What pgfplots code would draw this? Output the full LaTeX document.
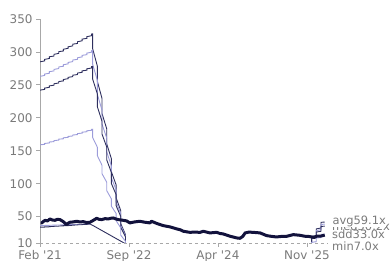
\documentclass[border=0pt]{standalone}
\usepackage{pgfplots}
\pgfplotsset{compat=1.18}
\usepackage{fontspec}
\setmainfont{DejaVu Sans}[Ligatures=TeXOff]
\definecolor{darkline}{HTML}{2E2F5E}
\definecolor{lightline}{HTML}{9C9CDA}
\definecolor{thickc}{HTML}{12123C}
\definecolor{axgray}{HTML}{A8A8A8}
\definecolor{txtgray}{HTML}{7A7A7A}
\begin{document}
\begin{tikzpicture}
\useasboundingbox (-40bp,-18bp) rectangle (350bp,243bp);
\begin{axis}[
  at={(0,0)}, anchor=south west,
  scale only axis, width=288bp, height=224bp,
  xmin=0, xmax=61.5, ymin=10, ymax=350,
  axis x line=bottom, axis y line=left,
  x axis line style={-, axgray, dashed, line width=0.8bp},
  y axis line style={-, axgray, line width=1bp},
  clip mode=individual,
  xtick={0,19,38,57}, xticklabels={Feb '21,Sep '22,Apr '24,Nov '25},
  ytick={10,50,100,150,200,250,300,350},
  tick align=outside, major tick length=4bp,
  tick style={axgray, line width=0.8bp},
  tick label style={font=\fontsize{12}{14}\selectfont, text=txtgray},
  /pgf/number format/assume math mode=true,
]
% avg line (dark)
\addplot[darkline, line width=0.9bp] coordinates {
(0,285) (1,286.4) (1,288.7) (2,290.1) (2,292.7) (3,293.8) (3,296.4) (4,297.8) (4,300.4) (5,301.5) (5,304.1) (6,305.5) (6,307.8) (7,309.2) (7,311.8) (8,312.9) (8,315.5) (9,316.9) (9,319.5) (10,320.6) (10,323.2) (11,324.6) (11,327.2) (11.25,327.5)
(11.25,304.7) (12.25,278.4) (12.25,255.4) (13.25,229.1) (13.25,206.3) (14.25,183.3) (14.25,160.5) (15.25,137.7) (15.25,118) (16.25,98.3) (16.25,78.7) (17.25,59) (17.25,39.3) (18.25,22.8) (18.25,9.7) (19,3.1)};
\addplot[darkline, line width=0.9bp] coordinates {
(57.3,5.7) (58,8.6) (58,20) (59,21.4) (59,31.4) (60,32.8) (60,41.3) (60.8,41.9)};
% second line (light)
\addplot[lightline, line width=0.9bp] coordinates {
(0,263) (1,264.3) (1,266.4) (2,267.7) (2,270.1) (3,271.2) (3,273.5) (4,274.8) (4,277.2) (5,278.3) (5,280.6) (6,281.9) (6,284) (7,285.4) (7,287.7) (8,288.8) (8,291.1) (9,292.5) (9,294.8) (10,295.9) (10,298.2) (11,299.6) (11,301.9) (11.25,302.2)
(11.25,281.1) (12.25,257) (12.25,235.6) (13.25,211.5) (13.25,190.4) (14.25,169.1) (14.25,148.1) (15.25,127) (15.25,108.9) (16.25,90.7) (16.25,72.6) (17.25,54.4) (17.25,36.3) (18.25,21) (18.25,8.9) (19,2.9)};
\addplot[lightline, line width=0.9bp] coordinates {
(57.3,5.3) (58,7.9) (58,18.4) (59,19.7) (59,28.9) (60,30.2) (60,38.1) (60.8,38.7)};
% third line (dark)
\addplot[darkline, line width=0.9bp] coordinates {
(0,242) (1,243.2) (1,245.1) (2,246.4) (2,248.5) (3,249.5) (3,251.7) (4,252.9) (4,255.1) (5,256) (5,258.2) (6,259.4) (6,261.4) (7,262.6) (7,264.7) (8,265.7) (8,267.9) (9,269.1) (9,271.3) (10,272.3) (10,274.4) (11,275.6) (11,277.8) (11.25,278.1)
(11.25,258.7) (12.25,236.4) (12.25,216.8) (13.25,194.6) (13.25,175.2) (14.25,155.6) (14.25,136.2) (15.25,116.9) (15.25,100.2) (16.25,83.5) (16.25,66.8) (17.25,50.1) (17.25,33.4) (18.25,19.4) (18.25,8.2) (19,2.7)};
\addplot[darkline, line width=0.9bp] coordinates {
(57.3,4.8) (58,7.3) (58,16.9) (59,18.2) (59,26.6) (60,27.8) (60,35.1) (60.8,35.6)};
% sdd line (light)
\addplot[lightline, line width=0.9bp] coordinates {
(0,159) (1,159.8) (1,161.1) (2,161.9) (2,163.3) (3,163.9) (3,165.4) (4,166.2) (4,167.6) (5,168.2) (5,169.7) (6,170.4) (6,171.7) (7,172.5) (7,173.9) (8,174.6) (8,176) (9,176.8) (9,178.2) (10,178.9) (10,180.3) (11,181.1) (11,182.5) (11.25,182.7)
(11.25,170) (12.25,155.3) (12.25,142.5) (13.25,127.8) (13.25,115.1) (14.25,102.2) (14.25,89.5) (15.25,76.8) (15.25,65.8) (16.25,54.9) (16.25,43.9) (17.25,32.9) (17.25,21.9) (18.25,12.7) (18.25,5.4) (19,1.7)};
\addplot[lightline, line width=0.9bp] coordinates {
(57.3,3.2) (58,4.8) (58,11.1) (59,11.9) (59,17.5) (60,18.3) (60,23.1) (60.8,23.4)};
% lower light line
\addplot[lightline, line width=0.9bp] coordinates {
(0,36.4) (3,37.1) (6,37.8) (9,38.5) (10.7,39)};
% min line (dark)
\addplot[darkline, line width=0.9bp] coordinates {
(0,34) (1,34.2) (1,34.4) (2,34.6) (2,34.9) (3,35.1) (3,35.4) (4,35.5) (4,35.8) (5,36) (5,36.3) (6,36.4) (6,36.7) (7,36.9) (7,37.2) (8,37.3) (8,37.6) (9,37.8) (9,38.1) (10,38.3) (10,38.6) (10.7,38.8)
(11.7,35) (12.7,31) (13.7,27) (14.7,23) (15.7,19) (16.7,15) (17.7,11) (18.2,9)};
% thick series
\addplot[thickc, line width=3bp, line join=round] coordinates {
(0.15,40.5) (0.36,40.4) (0.7,42.5) (1.07,44.4) (1.6,43.5) (2.13,46.5) (2.6,45) (3.2,44.4) (3.7,46) (4.27,45.5) (4.97,42.4) (5.4,39.5) (5.7,38) (6.0,40) (6.4,41.5) (7.1,42) (7.84,43) (8.5,42) (9.24,42.4) (10,41) (10.67,41.5) (11.3,44) (12.1,47.5) (12.6,46) (13.17,45.5) (13.9,47) (14.58,46.5) (15.1,47.5) (15.65,48) (16.2,46.5) (16.7,45.5) (17.3,45) (17.8,44.4) (18.5,43.5) (19.2,40.5) (20.2,42) (21.3,43) (22.4,41.5) (23.5,40.5) (23.8,43) (25,39.5) (26.3,36.4) (27.8,34.4) (29.2,31.4) (30,30) (30.6,27.8) (32,26.2) (33,26.5) (34.2,26.2) (34.9,27.8) (35.6,26.5) (36.3,25.3) (37.7,26.2) (38.4,24.5) (39.1,23.8) (40.6,20.2) (41.3,19) (42,17.7) (42.7,17.1) (43.3,20) (43.8,25.3) (44.6,26.5) (45.5,26.2) (47,25.3) (48.4,21.2) (49.5,20) (50.5,19.2) (51.6,20) (52.7,20.2) (54.1,22.7) (55.5,21.7) (56.6,20.2) (57.3,20) (58,19.2) (58.6,18.5) (59.1,20.5) (60,20.5) (60.8,22)};
% end labels
\begin{scope}[every node/.style={anchor=west, inner sep=0pt, xshift=4bp, text=txtgray, font=\fontsize{11.5}{13}\selectfont}]
\node at (axis cs:61.5,36) {med50.2x};
\node[fill=white, inner sep=0.3bp] at (axis cs:61.5,42.5) {avg59.1x};
\node at (axis cs:61.5,23) {sdd33.0x};
\node at (axis cs:61.5,4.5) {min7.0x};
\end{scope}
\end{axis}
\end{tikzpicture}
\end{document}
